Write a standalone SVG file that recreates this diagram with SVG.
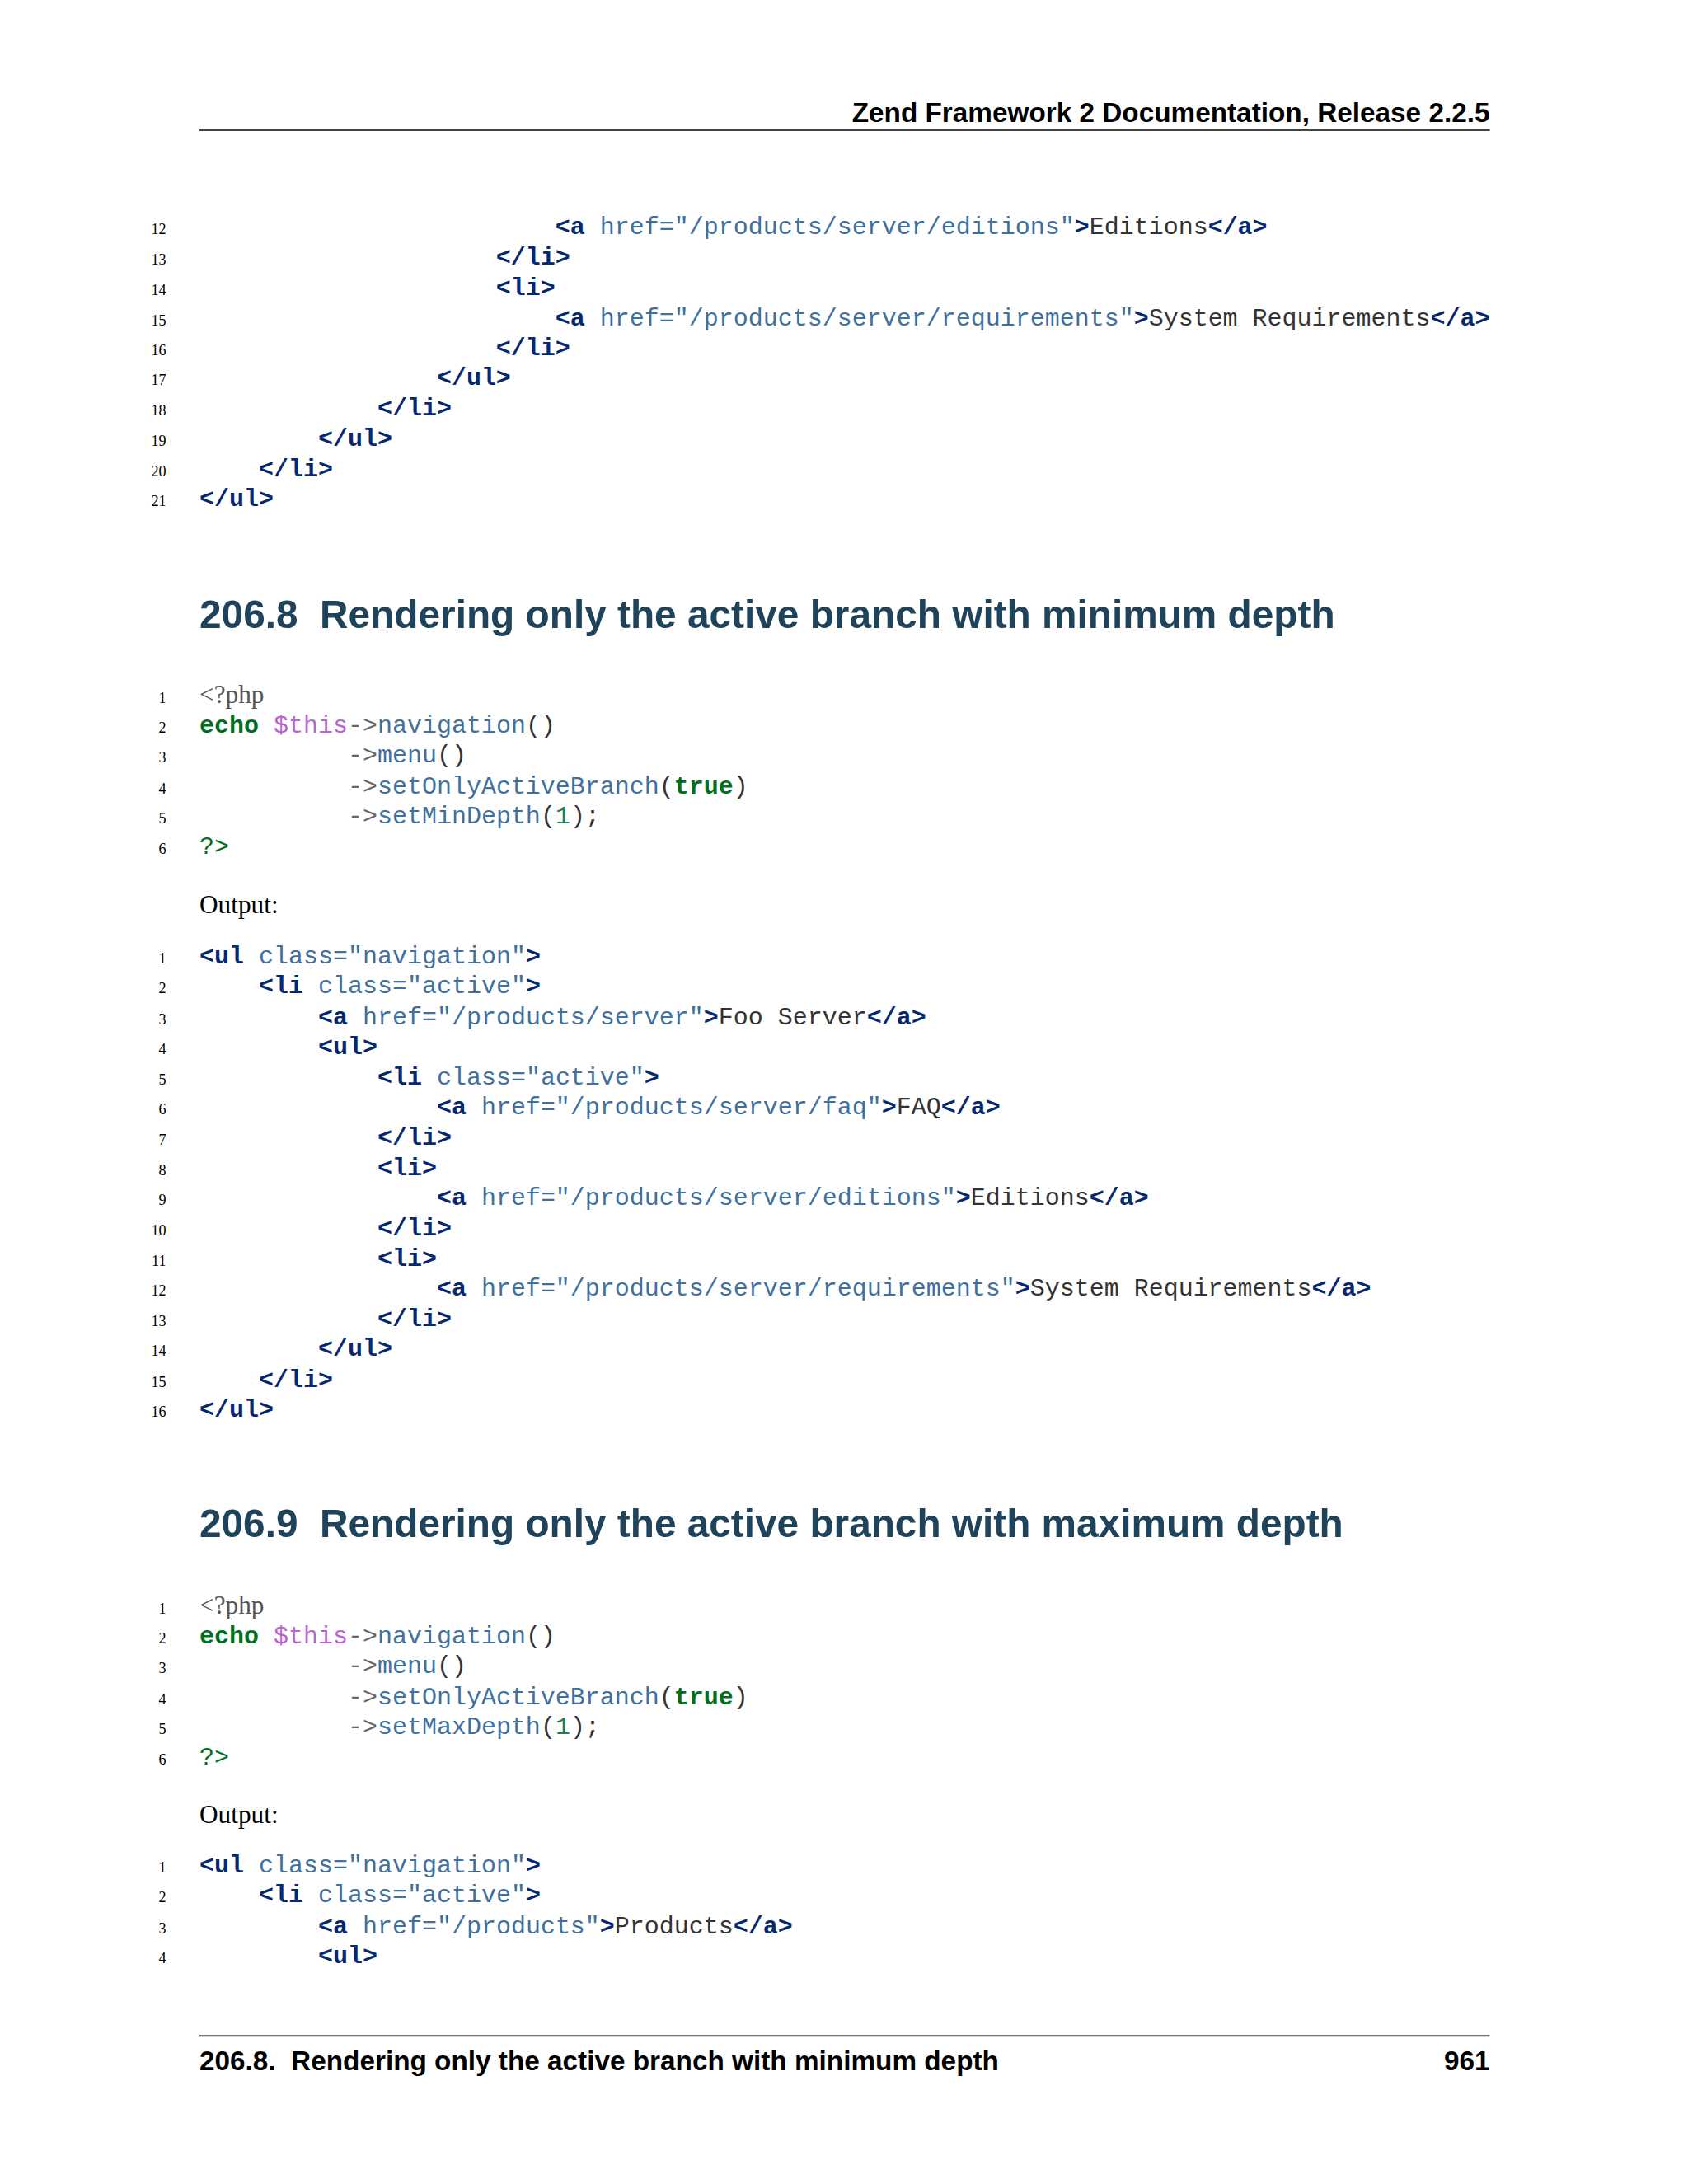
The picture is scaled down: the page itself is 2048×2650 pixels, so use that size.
<svg xmlns="http://www.w3.org/2000/svg" width="2048" height="2650" viewBox="0 0 2048 2650">
<style>
.c{font-family:"Liberation Mono",monospace;font-size:29.7px;fill:#333;white-space:pre}
.n{font-family:"Liberation Serif",serif;font-size:18px;fill:#000;text-anchor:end}
.t{font-weight:bold;fill:#062873}
.a{fill:#4070a0}
.e{font-weight:bold;fill:#007020}
.v{fill:#bb60d5}
.o{fill:#666}
.num{fill:#208050}
.g{fill:#007020}
.ph{font-family:"Liberation Serif",serif;font-size:31px;fill:#555}
.h{font-family:"Liberation Sans",sans-serif;font-weight:bold;font-size:48px;fill:#20435c;white-space:pre}
.hd{font-family:"Liberation Sans",sans-serif;font-weight:bold;font-size:33px;fill:#000;white-space:pre}
.p{font-family:"Liberation Serif",serif;font-size:31px;fill:#000}
</style>
<g transform="translate(242,158) scale(1.01,1.011) translate(-239,-156)">
<g id="header">
<text class="hd" x="1789" y="146" text-anchor="end">Zend Framework 2 Documentation, Release 2.2.5</text>
<line x1="239" y1="156" x2="1789" y2="156" stroke="#444" stroke-width="2"/>
</g>
<g id="block1" xml:space="preserve">
<text class="n" x="199" y="281">12</text><text class="c" x="239" y="281">                        <tspan class="t">&lt;a</tspan> <tspan class="a">href="/products/server/editions"</tspan><tspan class="t">&gt;</tspan>Editions<tspan class="t">&lt;/a&gt;</tspan></text>
<text class="n" x="199" y="317">13</text><text class="c" x="239" y="317">                    <tspan class="t">&lt;/li&gt;</tspan></text>
<text class="n" x="199" y="354">14</text><text class="c" x="239" y="354">                    <tspan class="t">&lt;li&gt;</tspan></text>
<text class="n" x="199" y="390">15</text><text class="c" x="239" y="390">                        <tspan class="t">&lt;a</tspan> <tspan class="a">href="/products/server/requirements"</tspan><tspan class="t">&gt;</tspan>System Requirements<tspan class="t">&lt;/a&gt;</tspan></text>
<text class="n" x="199" y="426">16</text><text class="c" x="239" y="426">                    <tspan class="t">&lt;/li&gt;</tspan></text>
<text class="n" x="199" y="462">17</text><text class="c" x="239" y="462">                <tspan class="t">&lt;/ul&gt;</tspan></text>
<text class="n" x="199" y="498">18</text><text class="c" x="239" y="498">            <tspan class="t">&lt;/li&gt;</tspan></text>
<text class="n" x="199" y="535">19</text><text class="c" x="239" y="535">        <tspan class="t">&lt;/ul&gt;</tspan></text>
<text class="n" x="199" y="571">20</text><text class="c" x="239" y="571">    <tspan class="t">&lt;/li&gt;</tspan></text>
<text class="n" x="199" y="607">21</text><text class="c" x="239" y="607"><tspan class="t">&lt;/ul&gt;</tspan></text>
</g>
<g id="heading1"><text class="h" x="239" y="753" textLength="1364" lengthAdjust="spacingAndGlyphs" xml:space="preserve">206.8  Rendering only the active branch with minimum depth</text></g>
<g id="block2" xml:space="preserve">
<text class="n" x="199" y="843">1</text><text class="ph" x="239" y="843">&lt;?php</text>
<text class="n" x="199" y="879">2</text><text class="c" x="239" y="879"><tspan class="e">echo</tspan> <tspan class="v">$this</tspan><tspan class="o">-&gt;</tspan><tspan class="a">navigation</tspan>()</text>
<text class="n" x="199" y="915">3</text><text class="c" x="239" y="915">          <tspan class="o">-&gt;</tspan><tspan class="a">menu</tspan>()</text>
<text class="n" x="199" y="952">4</text><text class="c" x="239" y="952">          <tspan class="o">-&gt;</tspan><tspan class="a">setOnlyActiveBranch</tspan>(<tspan class="e">true</tspan>)</text>
<text class="n" x="199" y="988">5</text><text class="c" x="239" y="988">          <tspan class="o">-&gt;</tspan><tspan class="a">setMinDepth</tspan>(<tspan class="num">1</tspan>);</text>
<text class="n" x="199" y="1024">6</text><text class="c" x="239" y="1024"><tspan class="g">?&gt;</tspan></text>
</g>
<g id="output1"><text class="p" x="239" y="1096">Output:</text></g>
<g id="block3" xml:space="preserve">
<text class="n" x="199" y="1156">1</text><text class="c" x="239" y="1156"><tspan class="t">&lt;ul</tspan> <tspan class="a">class="navigation"</tspan><tspan class="t">&gt;</tspan></text>
<text class="n" x="199" y="1192">2</text><text class="c" x="239" y="1192">    <tspan class="t">&lt;li</tspan> <tspan class="a">class="active"</tspan><tspan class="t">&gt;</tspan></text>
<text class="n" x="199" y="1229">3</text><text class="c" x="239" y="1229">        <tspan class="t">&lt;a</tspan> <tspan class="a">href="/products/server"</tspan><tspan class="t">&gt;</tspan>Foo Server<tspan class="t">&lt;/a&gt;</tspan></text>
<text class="n" x="199" y="1265">4</text><text class="c" x="239" y="1265">        <tspan class="t">&lt;ul&gt;</tspan></text>
<text class="n" x="199" y="1301">5</text><text class="c" x="239" y="1301">            <tspan class="t">&lt;li</tspan> <tspan class="a">class="active"</tspan><tspan class="t">&gt;</tspan></text>
<text class="n" x="199" y="1337">6</text><text class="c" x="239" y="1337">                <tspan class="t">&lt;a</tspan> <tspan class="a">href="/products/server/faq"</tspan><tspan class="t">&gt;</tspan>FAQ<tspan class="t">&lt;/a&gt;</tspan></text>
<text class="n" x="199" y="1374">7</text><text class="c" x="239" y="1374">            <tspan class="t">&lt;/li&gt;</tspan></text>
<text class="n" x="199" y="1410">8</text><text class="c" x="239" y="1410">            <tspan class="t">&lt;li&gt;</tspan></text>
<text class="n" x="199" y="1446">9</text><text class="c" x="239" y="1446">                <tspan class="t">&lt;a</tspan> <tspan class="a">href="/products/server/editions"</tspan><tspan class="t">&gt;</tspan>Editions<tspan class="t">&lt;/a&gt;</tspan></text>
<text class="n" x="199" y="1482">10</text><text class="c" x="239" y="1482">            <tspan class="t">&lt;/li&gt;</tspan></text>
<text class="n" x="199" y="1519">11</text><text class="c" x="239" y="1519">            <tspan class="t">&lt;li&gt;</tspan></text>
<text class="n" x="199" y="1555">12</text><text class="c" x="239" y="1555">                <tspan class="t">&lt;a</tspan> <tspan class="a">href="/products/server/requirements"</tspan><tspan class="t">&gt;</tspan>System Requirements<tspan class="t">&lt;/a&gt;</tspan></text>
<text class="n" x="199" y="1591">13</text><text class="c" x="239" y="1591">            <tspan class="t">&lt;/li&gt;</tspan></text>
<text class="n" x="199" y="1627">14</text><text class="c" x="239" y="1627">        <tspan class="t">&lt;/ul&gt;</tspan></text>
<text class="n" x="199" y="1664">15</text><text class="c" x="239" y="1664">    <tspan class="t">&lt;/li&gt;</tspan></text>
<text class="n" x="199" y="1700">16</text><text class="c" x="239" y="1700"><tspan class="t">&lt;/ul&gt;</tspan></text>
</g>
<g id="heading2"><text class="h" x="239" y="1844" textLength="1374" lengthAdjust="spacingAndGlyphs" xml:space="preserve">206.9  Rendering only the active branch with maximum depth</text></g>
<g id="block4" xml:space="preserve">
<text class="n" x="199" y="1936">1</text><text class="ph" x="239" y="1936">&lt;?php</text>
<text class="n" x="199" y="1972">2</text><text class="c" x="239" y="1972"><tspan class="e">echo</tspan> <tspan class="v">$this</tspan><tspan class="o">-&gt;</tspan><tspan class="a">navigation</tspan>()</text>
<text class="n" x="199" y="2008">3</text><text class="c" x="239" y="2008">          <tspan class="o">-&gt;</tspan><tspan class="a">menu</tspan>()</text>
<text class="n" x="199" y="2045">4</text><text class="c" x="239" y="2045">          <tspan class="o">-&gt;</tspan><tspan class="a">setOnlyActiveBranch</tspan>(<tspan class="e">true</tspan>)</text>
<text class="n" x="199" y="2081">5</text><text class="c" x="239" y="2081">          <tspan class="o">-&gt;</tspan><tspan class="a">setMaxDepth</tspan>(<tspan class="num">1</tspan>);</text>
<text class="n" x="199" y="2117">6</text><text class="c" x="239" y="2117"><tspan class="g">?&gt;</tspan></text>
</g>
<g id="output2"><text class="p" x="239" y="2188">Output:</text></g>
<g id="block5" xml:space="preserve">
<text class="n" x="199" y="2247">1</text><text class="c" x="239" y="2247"><tspan class="t">&lt;ul</tspan> <tspan class="a">class="navigation"</tspan><tspan class="t">&gt;</tspan></text>
<text class="n" x="199" y="2283">2</text><text class="c" x="239" y="2283">    <tspan class="t">&lt;li</tspan> <tspan class="a">class="active"</tspan><tspan class="t">&gt;</tspan></text>
<text class="n" x="199" y="2320">3</text><text class="c" x="239" y="2320">        <tspan class="t">&lt;a</tspan> <tspan class="a">href="/products"</tspan><tspan class="t">&gt;</tspan>Products<tspan class="t">&lt;/a&gt;</tspan></text>
<text class="n" x="199" y="2356">4</text><text class="c" x="239" y="2356">        <tspan class="t">&lt;ul&gt;</tspan></text>
</g>
<g id="footer">
<line x1="239" y1="2443" x2="1789" y2="2443" stroke="#444" stroke-width="2"/>
<text class="hd" x="239" y="2484" xml:space="preserve">206.8.  Rendering only the active branch with minimum depth</text>
<text class="hd" x="1789" y="2484" text-anchor="end">961</text>
</g>
</g>
</svg>
